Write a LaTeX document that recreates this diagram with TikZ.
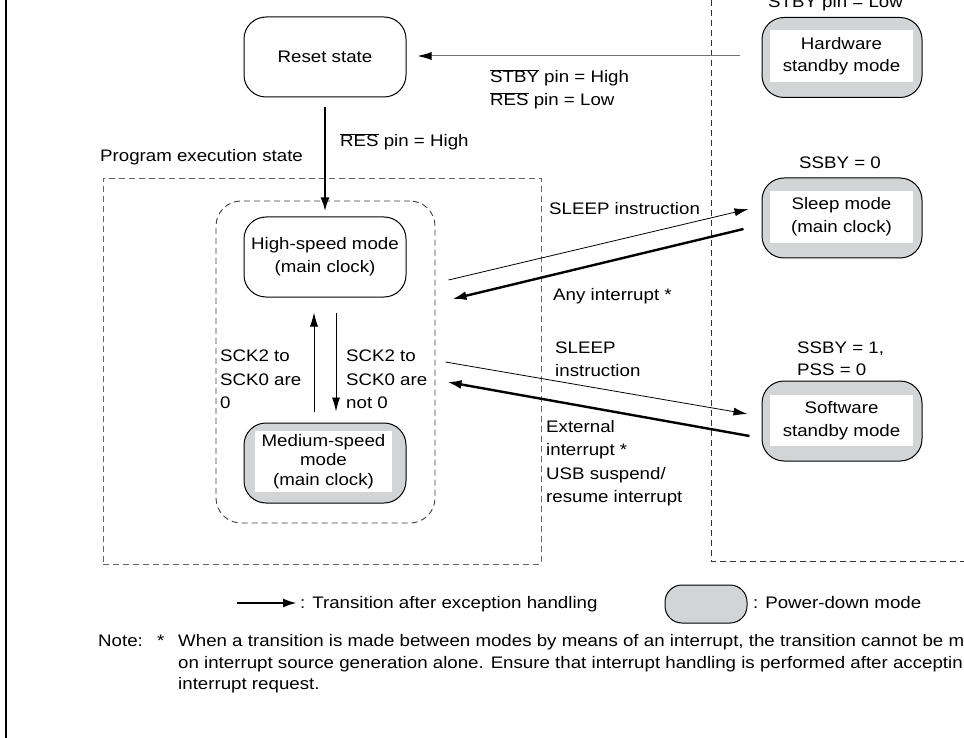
\documentclass[tikz,border=0pt]{standalone}
\usepackage{fontspec}
\setmainfont{Liberation Sans}[FakeStretch=1.12]
\usetikzlibrary{arrows.meta,calc}
\definecolor{pdgray}{RGB}{211,212,214}
\newcommand\ovl[1]{$\overline{\hbox{#1}}$}
\begin{document}
\begin{tikzpicture}[x=1pt,y=-1pt,
  font=\fontsize{16.7}{23}\selectfont,
  state/.style={draw, line width=1pt, rounded corners=22pt, minimum width=162pt, minimum height=80pt, inner sep=0pt, align=center},
  pd/.style={state, fill=pdgray, minimum width=160pt},
  win/.style={fill=white, inner sep=0pt, align=center},
  lbl/.style={anchor=base west, inner sep=0pt},
  clbl/.style={anchor=base, inner sep=0pt},
  thinarr/.style={line width=0.8pt, -{Latex[length=14pt,width=8pt]}},
  thickarr/.style={line width=2.4pt, -{Latex[length=14pt,width=9pt]}},
  dsh/.style={dash pattern=on 6pt off 4pt, line width=0.9pt}]
\useasboundingbox (0,0) rectangle (964,738);
\fill[white] (0,0) rectangle (964,738);
\draw[line width=2pt] (6,0) -- (6,738);

% dashed regions
\node[dsh, draw=black!60, minimum width=438pt, minimum height=386pt, inner sep=0pt] (pes) at (322,371) {};
\node[dsh, draw=black!75, rounded corners=25pt, minimum width=219pt, minimum height=322pt, inner sep=0pt] (modes) at (325.5,362) {};
\coordinate (rtop) at (711,0);
\coordinate (rcorner) at (711,561);
\coordinate (rright) at (964,561);
\draw[dsh, black!80] (rtop) -- (rcorner) -- (rright);

% states
\node[state] (reset) at (325,57) {Reset state};
\node[state] (hs) at (325,257) {High-speed mode\\(main clock)};
\node[pd, minimum width=162pt] (med) at (325,463) {};
\node[win, minimum width=137pt, minimum height=61pt, font=\fontsize{16.7}{19.5}\selectfont] (medt) at (323.5,461.5) {Medium-speed\\mode\\(main clock)};
\node[pd] (hw) at (842,57.5) {};
\node[win, minimum width=143pt, minimum height=52pt, font=\fontsize{16.7}{21.5}\selectfont] (hwt) at (841.5,56) {Hardware\\standby mode};
\node[pd] (sleep) at (842,218) {};
\node[win, minimum width=143pt, minimum height=52pt] (sleept) at (841.5,217) {Sleep mode\\(main clock)};
\node[pd] (sw) at (842,421) {};
\node[win, minimum width=143pt, minimum height=51pt] (swt) at (841.5,420.5) {Software\\standby mode};

% connectors
\draw[line width=1pt, draw=black!55, -{Latex[length=14pt,width=8pt,color=black]}] ($(hw.west)+(-22,-1.5)$) -- ($(reset.east)+(11,-1)$);
\draw[thickarr] ($(reset.south)+(0,10)$) -- ($(hs.north)+(0,-5)$);
\draw[thinarr] ($(med.north)+(-11,-11)$) -- ($(hs.south)+(-11,15)$);
\draw[thinarr] ($(hs.south)+(11,15)$) -- ($(med.north)+(11,-11)$);
\draw[thinarr] ($(hs.east)+(42,23)$) -- ($(sleep.west)+(-13,-9)$);
\draw[thickarr] ($(sleep.west)+(-18,11)$) -- ($(hs.east)+(46,42)$);
\draw[thinarr] ($(med.east)+(39,-101)$) -- ($(sw.west)+(-14,-7)$);
\draw[thickarr] ($(sw.west)+(-12,15)$) -- ($(med.east)+(41,-81)$);

% labels
\node[clbl] (lstbylow) at (835.5,8) {\ovl{STBY} pin = Low};
\node[lbl] (lstbyhigh) at (490,83) {\ovl{STBY} pin = High};
\node[lbl] (lreslow) at (490,106) {\ovl{RES} pin = Low};
\node[lbl] (lreshigh) at (340,147) {\ovl{RES} pin = High};
\node[lbl] (lpes) at (100,162) {Program execution state};
\node[lbl] (lsleep1) at (549,215) {SLEEP instruction};
\node[lbl] (lany) at (553,300) {Any interrupt *};
\node[clbl] (lssby0) at (840,169) {SSBY = 0};
\node[lbl] (lssby1) at (797,353) {SSBY = 1,};
\node[lbl] (lpss) at (797,375) {PSS = 0};
\node[lbl] (lsleep2a) at (555,353) {SLEEP};
\node[lbl] (lsleep2b) at (555,376) {instruction};
\node[lbl] (lext1) at (546,432) {External};
\node[lbl] (lext2) at (546,455.5) {interrupt *};
\node[lbl] (lext3) at (546,479) {USB suspend/};
\node[lbl] (lext4) at (546,502.5) {resume interrupt};
\node[lbl] (lsckl1) at (220,361) {SCK2 to};
\node[lbl] (lsckl2) at (220,385) {SCK0 are};
\node[lbl] (lsckl3) at (220,408) {0};
\node[lbl] (lsckr1) at (346,361) {SCK2 to};
\node[lbl] (lsckr2) at (346,385) {SCK0 are};
\node[lbl] (lsckr3) at (346,408) {not 0};

% legend
\coordinate (lega) at (237,603);
\coordinate (legb) at (297,603);
\draw[thickarr] (lega) -- (legb);
\node[lbl] (legt1) at (300,608) {: Transition after exception handling};
\node[draw, fill=pdgray, rounded corners=17pt, minimum width=82pt, minimum height=38pt, line width=1pt] (legpd) at (706,604) {};
\node[lbl] (legt2) at (753,608) {: Power-down mode};

% note
\node[lbl] (note) at (98,646) {Note:};
\node[lbl] (nstar) at (157,646) {*};
\node[lbl] (n1) at (178,646) {When a transition is made between modes by means of an interrupt, the transition cannot be m};
\node[lbl] (n2) at (178,668) {on interrupt source generation alone. Ensure that interrupt handling is performed after acceptin};
\node[lbl] (n3) at (178,689) {interrupt request.};
\end{tikzpicture}
\end{document}
